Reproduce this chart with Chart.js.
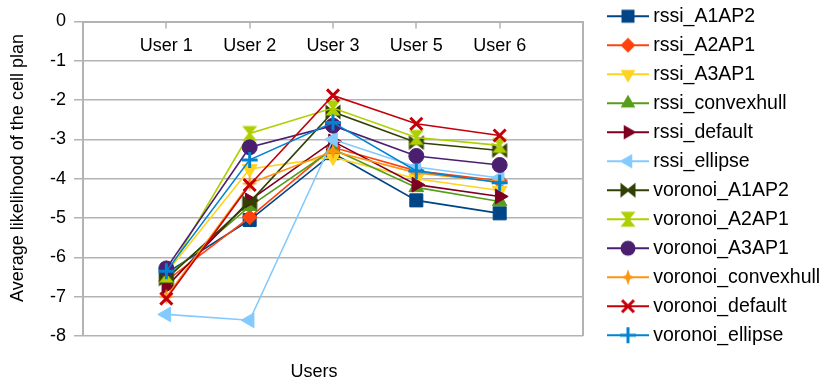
<!DOCTYPE html>
<html>
<head>
<meta charset="utf-8">
<script src="https://cdn.jsdelivr.net/npm/chart.js@4/dist/chart.umd.min.js"></script>
<style>
  html, body { margin: 0; padding: 0; background: #fff; }
  #wrap { width: 829px; height: 385px; }
</style>
</head>
<body>
<div id="wrap"><canvas id="chart" width="829" height="385"></canvas></div>
<script>
// Categories and axis ticks
const userLabels = ['User 1', 'User 2', 'User 3', 'User 5', 'User 6'];
const yTickValues = [-8, -7, -6, -5, -4, -3, -2, -1, 0];
const xTitle = 'Users';
const yTitle = 'Average likelihood of the cell plan';

// Average likelihood per user, one array per method
const rssiA1AP2         = [-6.40, -5.05, -3.35, -4.55, -4.88];
const rssiA2AP1         = [-6.60, -4.98, -3.20, -3.80, -4.05];
const rssiA3AP1         = [-6.40, -3.75, -3.45, -4.00, -4.30];
const rssiConvexhull    = [-6.50, -4.70, -3.25, -4.22, -4.58];
const rssiDefault       = [-6.75, -4.55, -3.05, -4.15, -4.45];
const rssiEllipse       = [-7.45, -7.60, -3.00, -3.70, -3.98];
const voronoiA1AP2      = [-6.55, -4.60, -2.30, -3.08, -3.28];
const voronoiA2AP1      = [-6.45, -2.85, -2.20, -2.95, -3.15];
const voronoiA3AP1      = [-6.28, -3.20, -2.65, -3.42, -3.65];
const voronoiConvexhull = [-7.00, -4.12, -3.30, -3.85, -4.08];
const voronoiDefault    = [-7.05, -4.16, -1.88, -2.60, -2.90];
const voronoiEllipse    = [-6.35, -3.52, -2.57, -3.80, -4.10];

const seriesNames = ['rssi_A1AP2', 'rssi_A2AP1', 'rssi_A3AP1', 'rssi_convexhull', 'rssi_default', 'rssi_ellipse',
  'voronoi_A1AP2', 'voronoi_A2AP1', 'voronoi_A3AP1', 'voronoi_convexhull', 'voronoi_default', 'voronoi_ellipse'];
const seriesValues = [rssiA1AP2, rssiA2AP1, rssiA3AP1, rssiConvexhull, rssiDefault, rssiEllipse,
  voronoiA1AP2, voronoiA2AP1, voronoiA3AP1, voronoiConvexhull, voronoiDefault, voronoiEllipse];

// Styling
const seriesColors = ['#004586', '#ff420e', '#ffd320', '#579d1c', '#7e0021', '#83caff',
  '#314004', '#aecf00', '#4b1f6f', '#ff950e', '#c5000b', '#0084d1'];
const seriesMarkers = ['square', 'diamond', 'triDown', 'triUp', 'triRight', 'triLeft',
  'bowtie', 'hourglass', 'circle', 'star4', 'x', 'plus'];

const FONT = "'Liberation Sans', Arial, sans-serif";
const GRID = '#b3b3b3';
Chart.defaults.font.family = FONT;
Chart.defaults.color = '#000';

// Path for a marker shape centred on (cx, cy)
function markerPath(g, kind, cx, cy) {
  g.beginPath();
  const poly = pts => { g.moveTo(cx + pts[0][0], cy + pts[0][1]); pts.slice(1).forEach(p => g.lineTo(cx + p[0], cy + p[1])); g.closePath(); };
  const tri = (r, deg) => {
    const pts = [];
    for (let k = 0; k < 3; k++) {
      const a = (deg + k * 120) * Math.PI / 180;
      pts.push([Math.sin(a) * r, -Math.cos(a) * r]);
    }
    poly(pts);
  };
  const h = 7.5, w = 1.5, s = 2;
  switch (kind) {
    case 'square': g.rect(cx - 6.5, cy - 6.5, 13, 13); break;
    case 'diamond': poly([[0, -7.5], [7.5, 0], [0, 7.5], [-7.5, 0]]); break;
    case 'triUp': tri(8.5, 0); break;
    case 'triDown': tri(8.5, 180); break;
    case 'triRight': tri(8.5, 90); break;
    case 'triLeft': tri(8.5, 270); break;
    case 'circle': g.arc(cx, cy, 7.5, 0, Math.PI * 2); break;
    case 'bowtie': poly([[-h, -h], [0, -w], [h, -h], [h, h], [0, w], [-h, h]]); break;
    case 'hourglass': poly([[-h, -h], [h, -h], [w, 0], [h, h], [-h, h], [-w, 0]]); break;
    case 'star4': poly([[0, -8], [s, -s], [8, 0], [s, s], [0, 8], [-s, s], [-8, 0], [-s, -s]]); break;
    case 'x': g.moveTo(cx - 6, cy - 6); g.lineTo(cx + 6, cy + 6); g.moveTo(cx + 6, cy - 6); g.lineTo(cx - 6, cy + 6); break;
    case 'plus': g.moveTo(cx - 8, cy); g.lineTo(cx + 8, cy); g.moveTo(cx, cy - 8); g.lineTo(cx, cy + 8); break;
  }
}

function paintMarker(g, kind, cx, cy, color) {
  markerPath(g, kind, cx, cy);
  g.fillStyle = color;
  g.strokeStyle = color;
  if (kind === 'x' || kind === 'plus') { g.lineWidth = 3; g.stroke(); }
  else { g.fill(); }
}

// Canvas marker for shapes Chart.js has no built-in style for
function markerImage(kind, color) {
  const c = document.createElement('canvas');
  c.width = 18; c.height = 18;
  paintMarker(c.getContext('2d'), kind, 9, 9, color);
  return c;
}

// Legend icon: short line with the marker in the middle
function legendIcon(kind, color) {
  const c = document.createElement('canvas');
  c.width = 62; c.height = 20;
  const g = c.getContext('2d');
  g.strokeStyle = color;
  g.lineWidth = 2;
  g.beginPath(); g.moveTo(20, 10); g.lineTo(62, 10); g.stroke();
  paintMarker(g, kind, 41, 10, color);
  return c;
}

const builtIn = {
  square:   { style: 'rect', r: 9.2, rot: 0 },
  diamond:  { style: 'rectRot', r: 7.5, rot: 0 },
  triUp:    { style: 'triangle', r: 8.5, rot: 0 },
  triDown:  { style: 'triangle', r: 8.5, rot: 180 },
  triRight: { style: 'triangle', r: 8.5, rot: 90 },
  triLeft:  { style: 'triangle', r: 8.5, rot: 270 },
  circle:   { style: 'circle', r: 7.5, rot: 0 },
  x:        { style: 'crossRot', r: 8.5, rot: 0, bw: 3 },
  plus:     { style: 'cross', r: 8, rot: 0, bw: 3 }
};

const datasets = seriesNames.map((name, i) => {
  const kind = seriesMarkers[i];
  const color = seriesColors[i];
  const b = builtIn[kind];
  return {
    label: name,
    data: seriesValues[i].map((v, j) => ({ x: j + 1, y: v })),
    xAxisID: 'x',
    yAxisID: 'y',
    borderColor: color,
    backgroundColor: color,
    borderWidth: 1.6,
    pointStyle: b ? b.style : markerImage(kind, color),
    pointRadius: b ? b.r : 9,
    pointRotation: b ? b.rot : 0,
    pointBorderWidth: b && b.bw ? b.bw : 1,
    pointBackgroundColor: color,
    pointBorderColor: color,
    tension: 0,
    order: seriesNames.length - i,
    legendIcon: legendIcon(kind, color)
  };
});

// Axis titles placed beside the plot frame
const axisTitles = {
  id: 'axisTitles',
  afterDraw(chart) {
    const { ctx } = chart;
    ctx.save();
    ctx.fillStyle = '#000';
    ctx.font = '18px ' + FONT;
    ctx.textAlign = 'center';
    ctx.textBaseline = 'middle';
    ctx.fillText(xTitle, 314, 372);
    ctx.translate(18, 168);
    ctx.rotate(-Math.PI / 2);
    ctx.fillText(yTitle, 0, 0);
    ctx.restore();
  }
};

new Chart(document.getElementById('chart'), {
  type: 'line',
  data: { datasets },
  plugins: [axisTitles],
  options: {
    responsive: false,
    animation: false,
    events: [],
    layout: { padding: { top: -3, right: 6, left: 0, bottom: 0 } },
    plugins: {
      tooltip: { enabled: false },
      legend: {
        position: 'right',
        align: 'start',
        maxWidth: 240,
        labels: {
          usePointStyle: true,
          pointStyleWidth: 51,
          padding: 9.5,
          color: '#000',
          font: { size: 19.5, family: FONT },
          generateLabels: chart => chart.data.datasets.map((ds, i) => ({
            text: ds.label,
            pointStyle: ds.legendIcon,
            fillStyle: ds.borderColor,
            strokeStyle: ds.borderColor,
            lineWidth: 0,
            hidden: false,
            datasetIndex: i
          }))
        }
      }
    },
    scales: {
      x: {
        type: 'linear',
        position: 'top',
        min: 0,
        max: userLabels.length + 1,
        afterBuildTicks: s => { s.ticks = Array.from({ length: userLabels.length + 2 }, (_, k) => ({ value: k })); },
        afterFit: s => { s.height = 24.5; },
        ticks: {
          autoSkip: false,
          maxRotation: 0,
          mirror: true,
          padding: 14,
          color: '#000',
          font: { size: 18 },
          callback: v => userLabels[v - 1] || ''
        },
        grid: {
          drawTicks: true,
          tickLength: -7,
          lineWidth: 2,
          color: c => (c.tick && c.tick.value === userLabels.length + 1) ? GRID : 'rgba(0,0,0,0)',
          tickColor: c => (c.tick && c.tick.value >= 1 && c.tick.value <= userLabels.length) ? GRID : 'rgba(0,0,0,0)',
          tickWidth: 1.5
        },
        border: { color: GRID, width: 2 }
      },
      x2: {
        type: 'linear',
        position: 'bottom',
        min: 0,
        max: userLabels.length + 1,
        grid: { display: false, drawTicks: false },
        ticks: { display: false },
        border: { display: false },
        afterFit: s => { s.height = 49; }
      },
      y: {
        type: 'linear',
        position: 'left',
        min: yTickValues[0],
        max: yTickValues[yTickValues.length - 1],
        afterBuildTicks: s => { s.ticks = yTickValues.map(v => ({ value: v })); },
        afterFit: s => { s.width = 83; },
        ticks: { padding: 8, color: '#000', font: { size: 18 } },
        grid: { color: GRID, lineWidth: 1.5, tickLength: 9, tickColor: GRID },
        border: { color: GRID, width: 2 }
      }
    }
  }
});
</script>
</body>
</html>
